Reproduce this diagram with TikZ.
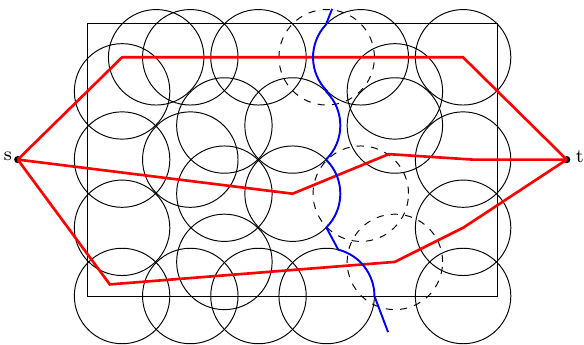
\documentclass[tikz,border=0pt]{standalone}
\usetikzlibrary{calc}
\begin{document}
\begin{tikzpicture}[
  disk/.style={circle, draw, minimum size=1.4cm, inner sep=0pt},
  ghost/.style={disk, dashed},
  route/.style={red, line width=1.1pt, line join=miter},
  barrier/.style={blue, line width=0.8pt},
  term/.style={circle, fill, inner sep=0pt, minimum size=3pt},
  lbl/.style={font=\footnotesize, inner sep=0.5pt}
]
\useasboundingbox (-1.290,-0.718) rectangle (7.273,4.340);
\draw (0,0) rectangle (6,4);
% sensor disks
\foreach \x/\y [count=\i] in {1/3.5,1.5/3.5,2.5/3.5,4/3.5,5.5/3.5,
  0.5/3,4.5/3,
  2/2.5,3/2.5,4.5/2.5,
  0.5/2,1.5/2,5.5/2,
  2/1.5,3/1.5,
  0.5/1,5.5/1,
  2/0.5,
  0.5/0,1.5/0,2.5/0,3.5/0,5.5/0}
  \node[disk] (c\i) at (\x,\y) {};
\node[ghost] (g1) at (3.5,3.5) {};
\node[ghost] (g2) at (4,1.5) {};
\node[ghost] (g3) at (4.5,0.5) {};
% terminals
\node[term] (s) at (-1.03,2) {};
\node[term] (t) at (7.02,2) {};
\node[lbl, anchor=base east] (sl) at ($(s.west)+(0,-0.02)$) {s};
\node[lbl, anchor=base west] (tl) at ($(t.east)+(0.05,-0.04)$) {t};
% routes
\coordinate (a1) at (0.5,3.5);
\coordinate (a2) at (5.5,3.5);
\coordinate (b1) at (3,1.5);
\coordinate (b2) at (4.41,2.08);
\coordinate (b3) at (5.64,2);
\coordinate (d1) at (0.32,0.17);
\coordinate (d2) at (4.5,0.5);
\coordinate (d3) at (5.5,1);
\draw[route] (s.center) -- (a1) -- (a2) -- (t.center);
\draw[route] (s.center) -- (b1) -- (b2) -- (b3) -- (t.center);
\draw[route] (s.center) -- (d1) -- (d2) -- (d3) -- (t.center);
% barrier
\coordinate (u0) at (3.58,4.21);
\coordinate (u9) at (4.4,-0.53);
\draw[barrier] (u0) -- ($(4,3.5)+(137:0.7)$) arc[start angle=137, end angle=225, radius=0.7]
  -- ($(3,2.5)+(45:0.7)$) arc[start angle=45, end angle=-45, radius=0.7]
  -- ($(3,1.5)+(45:0.7)$) arc[start angle=45, end angle=-45, radius=0.7]
  -- ($(3.5,0)+(76:0.7)$) arc[start angle=76, end angle=0, radius=0.7]
  -- (u9);
\end{tikzpicture}
\end{document}
